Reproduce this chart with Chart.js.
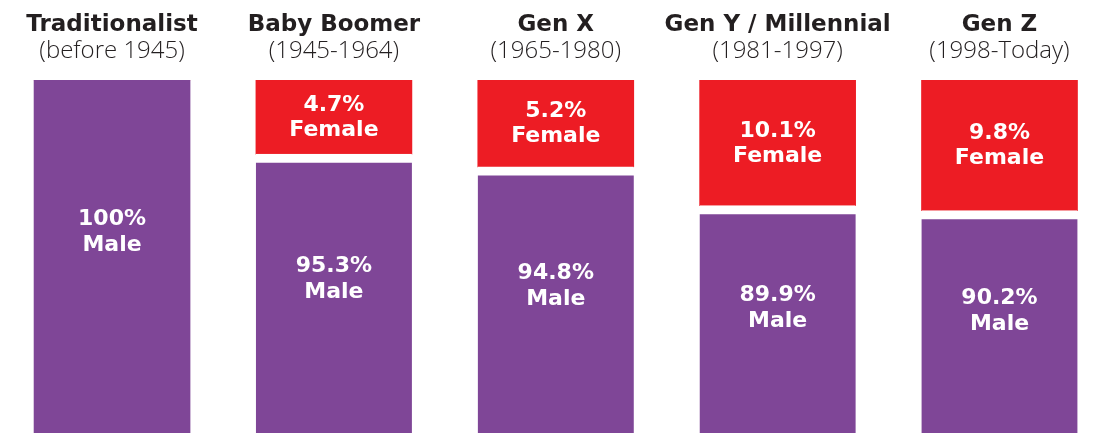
<!DOCTYPE html>
<html>
<head>
<meta charset="utf-8">
<script src="https://cdn.jsdelivr.net/npm/chart.js@4"></script>
<style>
html, body { margin: 0; padding: 0; background: #fff; }
#wrap { width: 1102px; height: 433px; }
</style>
</head>
<body>
<div id="wrap"><canvas id="myChart"></canvas></div>
<script>
var generations = ['Traditionalist', 'Baby Boomer', 'Gen X', 'Gen Y / Millennial', 'Gen Z'];
var years = ['(before 1945)', '(1945-1964)', '(1965-1980)', '(1981-1997)', '(1998-Today)'];

// percentages printed inside the bars
var malePct = ['100%', '95.3%', '94.8%', '89.9%', '90.2%'];
var femalePct = [null, '4.7%', '5.2%', '10.1%', '9.8%'];

// bar heights as drawn in the picture (share of the column, not scaled to the percentages)
var maleBar = [100, 79.0, 75.4, 64.4, 63.0];
var femaleBar = [0, 21.0, 24.6, 35.6, 37.0];

var PURPLE = '#7f4697';
var RED = '#ed1c24';
var INK = '#231f20';
var GAP = 9;

function points(arr) {
    return arr.map(function(v, i) { return { x: i, y: v }; });
}

// headings above each column
var headings = {
    id: 'headings',
    afterDraw: function(chart) {
        var ctx = chart.ctx;
        var xs = chart.scales.x;
        ctx.save();
        ctx.fillStyle = INK;
        ctx.textAlign = 'center';
        ctx.textBaseline = 'alphabetic';
        generations.forEach(function(g, i) {
            var x = xs.getPixelForValue(i);
            ctx.font = 'bold 23px "DejaVu Sans"';
            ctx.fillText(g, x, 31);
            ctx.font = '300 24px "Open Sans"';
            ctx.fillText(years[i], x, 58);
        });
        ctx.restore();
    }
};

// white labels inside the bars
var barLabels = {
    id: 'barLabels',
    afterDatasetsDraw: function(chart) {
        var ctx = chart.ctx;
        ctx.save();
        ctx.fillStyle = '#fff';
        ctx.textAlign = 'center';
        ctx.textBaseline = 'middle';
        ctx.font = 'bold 22px "DejaVu Sans"';
        chart.getDatasetMeta(0).data.forEach(function(bar, i) {
            var top = bar.y + (femaleBar[i] > 0 ? GAP : 0);
            var cy = top + (bar.base - top) * 0.43;
            ctx.fillText(malePct[i], bar.x, cy - 13);
            ctx.fillText('Male', bar.x, cy + 13);
        });
        chart.getDatasetMeta(1).data.forEach(function(bar, i) {
            if (!femalePct[i]) return;
            var cy = (bar.y + bar.base) / 2;
            ctx.fillText(femalePct[i], bar.x, cy - 12);
            ctx.fillText('Female', bar.x, cy + 13);
        });
        ctx.restore();
    }
};

var ctx = document.getElementById('myChart').getContext('2d');
var chart = new Chart(ctx, {
    type: 'bar',
    data: {
        datasets: [{
            label: 'Male',
            data: points(maleBar),
            backgroundColor: PURPLE,
            borderColor: '#fff',
            borderWidth: function(c) {
                return femaleBar[c.dataIndex] > 0 ? { top: GAP, left: 0, right: 0, bottom: 0 } : 0;
            },
            borderSkipped: 'start',
            grouped: false,
            barThickness: 156
        }, {
            label: 'Female',
            data: points(femaleBar),
            backgroundColor: RED,
            borderWidth: 0,
            grouped: false,
            barThickness: 156
        }]
    },
    options: {
        responsive: true,
        maintainAspectRatio: false,
        animation: false,
        layout: { padding: { top: 80, left: 0, right: 0, bottom: 0 } },
        plugins: {
            legend: { display: false },
            tooltip: { enabled: false }
        },
        scales: {
            x: { type: 'linear', min: -0.505, max: 4.462, offset: false, display: false },
            y: { stacked: true, min: 0, max: 100, display: false }
        }
    },
    plugins: [headings, barLabels]
});
</script>
</body>
</html>
